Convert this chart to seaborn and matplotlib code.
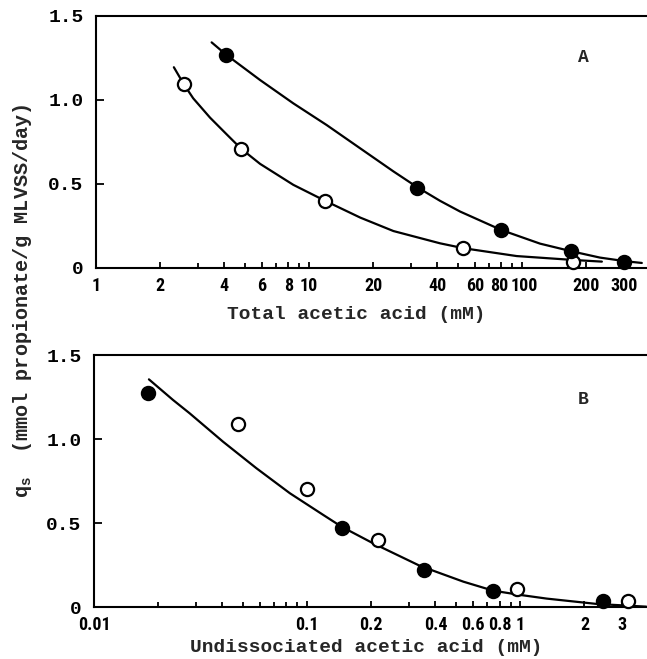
import numpy as np
import pandas as pd
import matplotlib
matplotlib.use("Agg")
import matplotlib.pyplot as plt
from matplotlib import font_manager
from matplotlib.transforms import ScaledTranslation
import seaborn as sns

sns.set_theme(style="white")
plt.rcParams['font.family'] = ['Liberation Mono', 'DejaVu Sans']

# ---- Panel A data: total acetic acid (mM) vs qs ----
a_filled_x = [4.08, 32.3, 79.9, 170, 300]
a_filled_y = [1.27, 0.476, 0.226, 0.103, 0.038]
a_open_x = [2.58, 4.8, 11.9, 53, 173]
a_open_y = [1.095, 0.71, 0.40, 0.118, 0.038]
# fitted curves
a_fit1_x = [3.49, 4.08, 5.89, 8.44, 12.1, 17.4, 24.9, 32.3, 41.2, 51.2, 80, 121.5, 170, 232, 307, 365]
a_fit1_y = [1.343, 1.27, 1.119, 0.980, 0.851, 0.712, 0.575, 0.48, 0.40, 0.336, 0.226, 0.145, 0.10, 0.062, 0.040, 0.030]
a_fit2_x = [2.32, 2.58, 2.86, 3.43, 4.11, 4.8, 5.89, 8.44, 11.9, 17.4, 24.9, 41.2, 53, 94.4, 173, 237]
a_fit2_y = [1.195, 1.095, 1.01, 0.895, 0.795, 0.71, 0.62, 0.495, 0.40, 0.30, 0.22, 0.147, 0.118, 0.071, 0.048, 0.038]

# ---- Panel B data: undissociated acetic acid (mM) vs qs ----
b_filled_x = [0.0179, 0.145, 0.354, 0.747, 2.44]
b_filled_y = [1.272, 0.471, 0.219, 0.094, 0.034]
b_open_x = [0.0474, 0.0993, 0.215, 0.968, 3.21]
b_open_y = [1.089, 0.701, 0.397, 0.11, 0.034]
b_fit_x = [0.0181, 0.0235, 0.0281, 0.0403, 0.0578, 0.083, 0.119, 0.145, 0.204, 0.338, 0.54, 0.747, 0.997, 1.33, 2.29, 3.9]
b_fit_y = [1.355, 1.232, 1.153, 0.984, 0.826, 0.677, 0.548, 0.478, 0.379, 0.245, 0.151, 0.097, 0.072, 0.050, 0.018, 0.002]

a_major = [1, 2, 4, 6, 8, 10, 20, 40, 60, 80, 100, 200, 300]
a_major_lbl = ['1', '2', '4', '6', '8', '10', '20', '40', '60', '80', '100', '200', '300']
a_minor = [3, 5, 7, 9, 30, 50, 70, 90]
b_major = [0.01, 0.1, 0.2, 0.4, 0.6, 0.8, 1, 2, 3]
b_major_lbl = ['0.01', '0.1', '0.2', '0.4', '0.6', '0.8', '1', '2', '3']
b_minor = [0.02, 0.03, 0.04, 0.05, 0.06, 0.07, 0.08, 0.09, 0.3, 0.5, 0.7, 0.9]
y_ticks = [0, 0.5, 1.0, 1.5]
y_lbl = ['0', '0.5', '1.0', '1.5']

W, H = 647, 659
fig = plt.figure(figsize=(W / 100, H / 100), dpi=100)

def px_axes(l, t, r, b):
    return fig.add_axes([l / W, 1 - b / H, (r - l) / W, (b - t) / H])

axA = px_axes(96, 16, 647, 268)
axB = px_axes(94, 355, 647, 607)

# pick a condensed sans for the x tick numbers if one is installed
installed = {f.name for f in font_manager.fontManager.ttflist}
narrow = None
for cand in ['Liberation Sans Narrow', 'DejaVu Sans Condensed', 'Roboto Condensed', 'Open Sans Condensed']:
    if cand in installed:
        narrow = cand
        break
if narrow:
    tickfont = dict(family=[narrow], weight='bold', size=13)
else:
    tickfont = dict(family=['Liberation Sans'], weight='bold', size=10.5)
monofont = dict(family=['Liberation Mono', 'DejaVu Sans Mono'], weight='bold', size=14)

def style(ax, xlim, major, major_lbl, minor):
    ax.set_xscale('log')
    ax.set_xlim(*xlim)
    ax.set_ylim(0, 1.5)
    ax.set_xticks(major)
    ax.set_xticklabels(major_lbl, fontdict=tickfont)
    ax.set_xticks(minor, minor=True)
    ax.set_xticklabels([], minor=True)
    ax.set_yticks(y_ticks)
    ax.set_yticklabels(y_lbl, fontdict=monofont)
    ax.tick_params(axis='x', which='major', direction='in', length=4.5, width=1.3, pad=6.5, colors='black')
    ax.tick_params(axis='x', which='minor', direction='in', length=3.5, width=1.3, colors='black')
    ax.tick_params(axis='y', which='major', direction='in', length=5.5, width=1.3, pad=9, colors='black')
    ax.tick_params(axis='x', which='both', bottom=True)
    ax.tick_params(axis='y', left=True)
    for s in ['left', 'top', 'bottom']:
        ax.spines[s].set_visible(True)
        ax.spines[s].set_color('black')
        ax.spines[s].set_linewidth(1.5)
    ax.spines['right'].set_visible(False)
    ax.grid(False)
    ax.set_facecolor('white')

def nudge(ax, text, dx_px):
    for lbl in ax.get_xticklabels():
        if lbl.get_text() == text:
            lbl.set_transform(lbl.get_transform() +
                              ScaledTranslation(dx_px / 100, 0, fig.dpi_scale_trans))

def draw_fit(ax, xs, ys):
    df = pd.DataFrame({'x': xs, 'y': ys})
    sns.lineplot(data=df, x='x', y='y', ax=ax, color='black', lw=1.6, sort=False,
                 estimator=None, legend=False, zorder=2)

def draw_pts(ax, xs, ys, filled):
    df = pd.DataFrame({'x': xs, 'y': ys})
    sns.scatterplot(data=df, x='x', y='y', ax=ax, s=90, marker='o',
                    color='black' if filled else 'white', edgecolor='black',
                    linewidth=1.6, legend=False, zorder=3, clip_on=False)

# Panel A
draw_fit(axA, a_fit1_x, a_fit1_y)
draw_fit(axA, a_fit2_x, a_fit2_y)
draw_pts(axA, a_open_x, a_open_y, False)
draw_pts(axA, a_filled_x, a_filled_y, True)
style(axA, (1, 386), a_major, a_major_lbl, a_minor)
nudge(axA, '80', -2)
nudge(axA, '100', 2)
axA.set_xlabel('Total acetic acid (mM)', fontdict=monofont)
axA.xaxis.set_label_coords(0.472, -0.15)
axA.set_ylabel('')
axA.text(0.884, 0.837, 'A', transform=axA.transAxes, ha='center', va='center',
         fontdict=dict(family=['Liberation Mono'], weight='bold', size=13))

# Panel B
draw_fit(axB, b_fit_x, b_fit_y)
draw_pts(axB, b_open_x, b_open_y, False)
draw_pts(axB, b_filled_x, b_filled_y, True)
style(axB, (0.01, 3.93), b_major, b_major_lbl, b_minor)
axB.set_xlabel('Undissociated acetic acid (mM)', fontdict=monofont)
axB.xaxis.set_label_coords(0.492, -0.125)
axB.set_ylabel('')
axB.text(0.884, 0.825, 'B', transform=axB.transAxes, ha='center', va='center',
         fontdict=dict(family=['Liberation Mono'], weight='bold', size=13))

fig.text(23 / W, 1 - 301 / H, 'q$_{\\mathregular{s}}$  (mmol propionate/g MLVSS/day)',
         rotation=90, ha='center', va='center',
         fontdict=dict(family=['Liberation Mono', 'DejaVu Sans Mono'], weight='bold', size=14.5))

fig.savefig('out.png', dpi=100, facecolor='white')
